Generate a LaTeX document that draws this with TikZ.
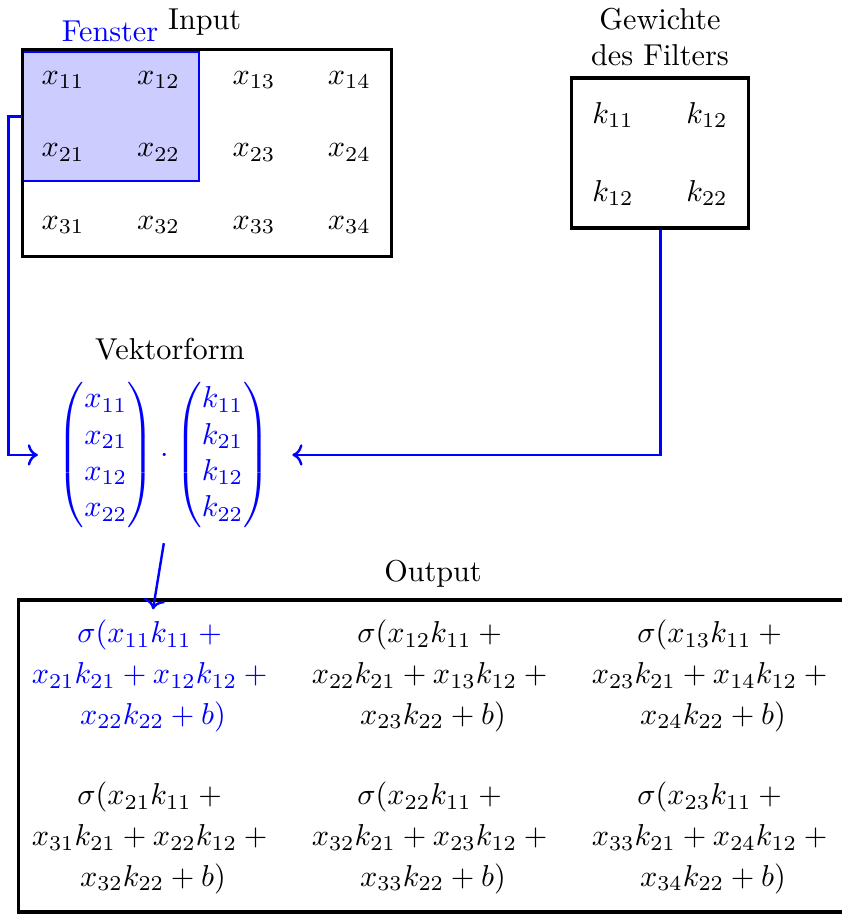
\documentclass[tikz,border=0pt]{standalone}
\usepackage{amsmath}
\usetikzlibrary{arrows.meta, positioning}

\tikzset{
  box/.style={draw, line width=1pt, inner sep=0pt},
  conn/.style={->, blue, thick},
}

\begin{document}
\begin{tikzpicture}
  \useasboundingbox (0,0) rectangle (9.79,-10.64);
  % Input
  \node[draw=blue, fill=blue!20, inner sep=0pt, minimum width=2.047cm, minimum height=1.5cm] (fenster) at (1.29,-1.355) {};
  \node[box, minimum width=4.30cm, minimum height=2.40cm] (input) at (2.407,-1.779) {};
  \node (inputlabel) at (2.38,-0.256) {Input};
  \node[text=blue] (fensterlabel) at (1.28,-0.36) {Fenster};
  \foreach \i in {1,2,3}
    \foreach \j in {1,...,4}
      \node (x\i\j) at ({0.733+1.11*(\j-1)},{-0.93-0.843*(\i-1)}) {$x_{\i\j}$};
  % Filter
  \node[box, minimum width=2.058cm, minimum height=1.744cm] (filter) at (7.68,-1.779) {};
  \node[align=center] (filterlabel) at (7.674,-0.43) {Gewichte\\des Filters};
  \foreach \x/\y/\k in {7.128/-1.337/11, 8.221/-1.337/12, 7.128/-2.244/12, 8.221/-2.244/22}
    \node (k\k) at (\x,\y) {$k_{\k}$};
  % Vektorform
  \node (veclabel) at (1.977,-4.058) {Vektorform};
  \node[text=blue, inner sep=5pt] (vec) at (1.905,-5.29)
    {$\begin{pmatrix} x_{11}\\ x_{21}\\ x_{12}\\ x_{22} \end{pmatrix} \cdot
      \begin{pmatrix} k_{11}\\ k_{21}\\ k_{12}\\ k_{22} \end{pmatrix}$};
  % Output
  \node[box, minimum width=9.65cm, minimum height=3.628cm] (output) at (5.035,-8.791) {};
  \node (outputlabel) at (5.035,-6.674) {Output};
  \foreach \r in {1,2}
    \foreach \c in {1,2,3} {
      \pgfmathtruncatemacro{\rr}{\r+1}
      \pgfmathtruncatemacro{\cc}{\c+1}
      \def\col{black}
      \ifnum\r\c=11 \def\col{blue}\fi
      \node[align=center, text=\col] (o\r\c) at ({1.779+3.256*(\c-1)},{-7.86-1.884*(\r-1)})
        {$\sigma(x_{\r\c}k_{11}+{}$\\[1.5pt] $x_{\rr\c}k_{21}+x_{\r\cc}k_{12}+{}$\\[1.5pt] $x_{\rr\cc}k_{22}+b)$};
    }
  % Verbindungen
  \draw[conn, shorten >=0.05cm] (fenster.west) -- ++(-0.16,0) |- (vec.west);
  \draw[conn, shorten >=0.08cm] (filter.south) |- (vec.east);
  \draw[conn] (vec.south) -- (o11.north);
\end{tikzpicture}
\end{document}
